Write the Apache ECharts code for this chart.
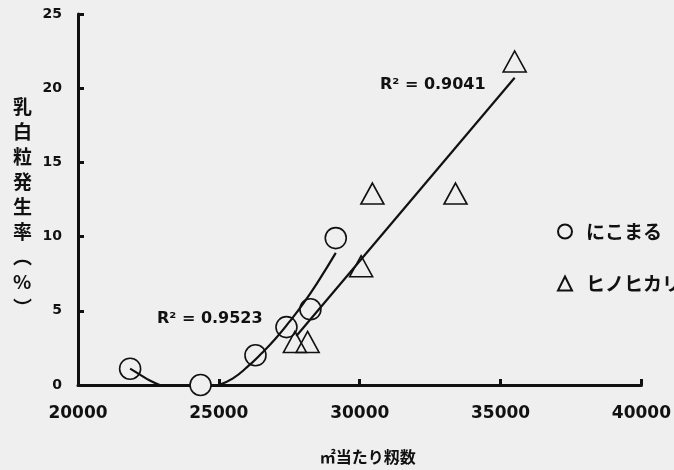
<!DOCTYPE html>
<html>
<head>
<meta charset="utf-8">
<script src="https://cdn.jsdelivr.net/npm/echarts@6/dist/echarts.min.js"></script>
<style>
  html, body { margin: 0; padding: 0; background: #efefef; }
  #chart { width: 674px; height: 470px; }
</style>
</head>
<body>
<div id="chart"></div>
<script>
var nikomaruX = [21850, 24350, 26300, 27400, 28250, 29150];
var nikomaruY = [1.1, 0, 2.0, 3.9, 5.1, 9.9];
var hinoX = [27700, 28150, 30050, 30450, 33400, 35500];
var hinoY = [2.9, 2.9, 8.0, 12.9, 12.9, 21.8];

// 近似曲線（図の線をなぞった点）
var nikoFitAX = [21850, 22200, 22550, 22900];
var nikoFitAY = [1.1, 0.7, 0.3, 0];
var nikoFitBX = [25000, 25500, 26000, 26500, 27000, 27500, 28000, 28500, 29150];
var nikoFitBY = [0, 0.45, 1.2, 2.1, 3.1, 4.25, 5.5, 6.9, 8.9];
var hinoFitX = [27750, 35500];
var hinoFitY = [3.3, 20.7];

var xTicks = [20000, 25000, 30000, 35000, 40000];
var yTicks = [0, 5, 10, 15, 20, 25];

function pairs(xs, ys) {
  return xs.map(function (x, i) { return [x, ys[i]]; });
}

var bg = '#efefef';
var ink = '#111';
var chart = echarts.init(document.getElementById('chart'));

var fitLine = function (data) {
  return {
    type: 'line', data: data, symbol: 'none', smooth: true, z: 5,
    lineStyle: { color: ink, width: 2.2 }, silent: true,
    legendHoverLink: false
  };
};

chart.setOption({
  backgroundColor: bg,
  animation: false,
  grid: { left: 78, right: 27, top: 14, bottom: 76 },
  xAxis: {
    type: 'value',
    min: xTicks[0], max: xTicks[xTicks.length - 1], interval: 5000,
    name: '㎡当たり籾数',
    nameLocation: 'middle',
    nameGap: 64,
    nameTextStyle: { color: ink, fontSize: 16, fontWeight: 'bold', fontFamily: 'Noto Sans CJK JP', padding: [0, 0, 0, 16] },
    axisLine: { lineStyle: { color: ink, width: 3 } },
    axisTick: { inside: true, length: 6, lineStyle: { color: ink, width: 3 } },
    axisLabel: {
      color: ink, fontSize: 17, fontWeight: 'bold', fontFamily: 'DejaVu Sans', margin: 20,
      formatter: function (v) { return String(v); }
    },
    splitLine: { show: false }
  },
  yAxis: {
    type: 'value',
    min: yTicks[0], max: yTicks[yTicks.length - 1], interval: 5,
    axisLine: { lineStyle: { color: ink, width: 3 } },
    axisTick: { inside: true, length: 6, lineStyle: { color: ink, width: 3 } },
    axisLabel: { color: ink, fontSize: 14, fontWeight: 'bold', fontFamily: 'DejaVu Sans', margin: 16 },
    splitLine: { show: false }
  },
  legend: {
    orient: 'vertical',
    left: 552, top: 217,
    itemGap: 33,
    itemWidth: 14, itemHeight: 14,
    data: ['にこまる', 'ヒノヒカリ'],
    textStyle: { color: ink, fontSize: 19, fontWeight: 'bold', fontFamily: 'Noto Sans CJK JP', padding: [0, 0, 0, 9] }
  },
  series: [
    {
      name: 'にこまる', type: 'scatter', symbol: 'circle', symbolSize: 21, z: 3,
      itemStyle: { color: bg, borderColor: ink, borderWidth: 1.6, opacity: 1 },
      data: pairs(nikomaruX, nikomaruY)
    },
    {
      name: 'ヒノヒカリ', type: 'scatter', symbol: 'triangle', symbolSize: [23, 21], z: 3,
      itemStyle: { color: 'rgba(0,0,0,0)', borderColor: ink, borderWidth: 1.6, opacity: 1 },
      data: pairs(hinoX, hinoY)
    },
    fitLine(pairs(nikoFitAX, nikoFitAY)),
    fitLine(pairs(nikoFitBX, nikoFitBY)),
    fitLine(pairs(hinoFitX, hinoFitY))
  ],
  graphic: [
    {
      type: 'text', left: 13, top: 94,
      style: {
        text: '乳\n白\n粒\n発\n生\n率\n︵\n%\n︶',
        fill: ink, font: 'bold 19px "Noto Sans CJK JP"', lineHeight: 25.1, align: 'center'
      }
    },
    {
      type: 'text', left: 380, top: 77,
      style: { text: 'R² = 0.9041', fill: ink, font: 'bold 16px "DejaVu Sans"' }
    },
    {
      type: 'text', left: 157, top: 311,
      style: { text: 'R² = 0.9523', fill: ink, font: 'bold 16px "DejaVu Sans"' }
    }
  ]
});
</script>
</body>
</html>
